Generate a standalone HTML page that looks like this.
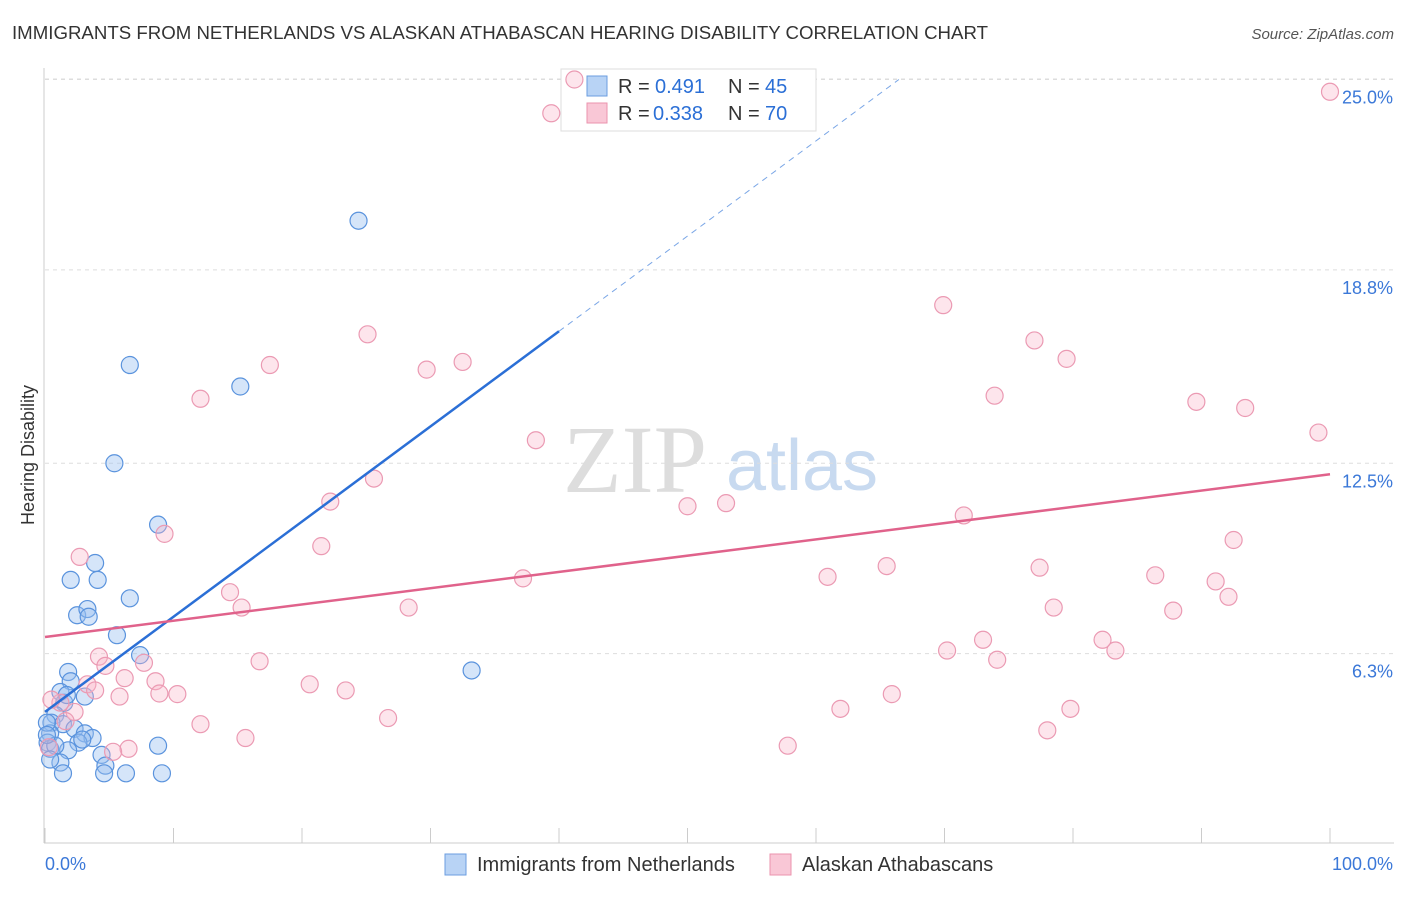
<!DOCTYPE html>
<html><head><meta charset="utf-8"><style>
body{margin:0;background:#fff;font-family:"Liberation Sans",sans-serif;}
</style></head><body>
<svg id="c" width="1406" height="892" xmlns="http://www.w3.org/2000/svg">
<text x="12" y="39" font-size="18" fill="#333" textLength="976" lengthAdjust="spacingAndGlyphs">IMMIGRANTS FROM NETHERLANDS VS ALASKAN ATHABASCAN HEARING DISABILITY CORRELATION CHART</text>
<text x="1394" y="39" font-size="15" fill="#555" font-style="italic" text-anchor="end">Source: ZipAtlas.com</text>
<text transform="translate(34,455) rotate(-90)" font-size="18" fill="#333" text-anchor="middle">Hearing Disability</text>
<text x="635" y="492" font-size="96" fill="#ddd" font-family="Liberation Serif" text-anchor="middle">ZIP</text>
<text x="802" y="490" font-size="72" fill="#c8daf0" text-anchor="middle">atlas</text>
<g id="grid"></g>
<g>
<rect x="561" y="69" width="255" height="62" fill="#fff" stroke="#ddd"/>
<rect x="587" y="76" width="20" height="20" fill="#b8d3f5" stroke="#6b9ee0"/>
<rect x="587" y="103" width="20" height="20" fill="#f9c7d6" stroke="#eb93ae"/>
<text x="618" y="93" font-size="20" fill="#333">R = </text><text x="655" y="93" font-size="20" fill="#2b6fd6">0.491</text>
<text x="728" y="93" font-size="20" fill="#333">N = </text><text x="765" y="93" font-size="20" fill="#2b6fd6">45</text>
<text x="618" y="120" font-size="20" fill="#333">R = </text><text x="653" y="120" font-size="20" fill="#2b6fd6">0.338</text>
<text x="728" y="120" font-size="20" fill="#333">N = </text><text x="765" y="120" font-size="20" fill="#2b6fd6">70</text>
</g>
<g id="marks"></g><g id="lines"></g>
<g>
<rect x="445" y="854" width="21" height="21" fill="#b8d3f5" stroke="#6b9ee0"/>
<text x="477" y="871" font-size="20" fill="#333">Immigrants from Netherlands</text>
<rect x="770" y="854" width="21" height="21" fill="#f9c7d6" stroke="#eb93ae"/>
<text x="802" y="871" font-size="20" fill="#333">Alaskan Athabascans</text>
</g>
</svg>
<script>
const yTicks=[6.3,12.5,18.8,25.0];
const yTickLabels=["6.3%","12.5%","18.8%","25.0%"];
const xLabels=["0.0%","100.0%"];
const blueX=[24.4,6.6,15.2,5.4,8.8,3.9,2.0,4.1,6.6,2.5,3.3,3.4,5.6,7.4,33.2,1.8,2.0,1.2,3.1,1.5,0.8,0.5,1.4,2.3,3.1,3.7,0.4,0.2,2.6,2.9,8.8,0.4,1.8,4.4,1.2,4.7,1.4,4.6,6.3,9.1,0.15,0.8,0.4,1.7,0.15];
const blueY=[20.4,15.7,15.0,12.5,10.5,9.25,8.7,8.7,8.1,7.55,7.75,7.5,6.9,6.25,5.75,5.7,5.4,5.05,4.9,4.7,4.3,4.05,4.0,3.85,3.7,3.55,3.7,3.4,3.4,3.5,3.3,3.2,3.15,3.0,2.75,2.65,2.4,2.4,2.4,2.4,4.05,3.3,2.85,4.95,3.65];
const pinkX=[41.2,39.4,100,69.9,25.1,77.0,79.5,17.5,32.5,29.7,12.1,73.9,89.6,93.4,99.1,38.2,25.6,22.2,50.0,53.0,71.5,9.3,92.5,21.5,2.7,65.5,77.4,37.2,60.9,86.4,91.1,92.1,14.4,15.3,28.3,78.5,87.8,73.0,82.3,83.3,70.2,74.1,4.2,4.7,7.7,16.7,6.2,8.6,3.3,3.9,8.9,10.3,5.8,20.6,23.4,65.9,1.2,2.3,61.9,79.8,26.7,12.1,15.6,78.0,57.8,6.5,5.3,0.3,1.6,0.5];
const pinkY=[25.0,23.9,24.6,17.65,16.7,16.5,15.9,15.7,15.8,15.55,14.6,14.7,14.5,14.3,13.5,13.25,12.0,11.25,11.1,11.2,10.8,10.2,10.0,9.8,9.45,9.15,9.1,8.75,8.8,8.85,8.65,8.15,8.3,7.8,7.8,7.8,7.7,6.75,6.75,6.4,6.4,6.1,6.2,5.9,6.0,6.05,5.5,5.4,5.3,5.1,5.0,4.98,4.9,5.3,5.1,4.98,4.7,4.4,4.5,4.5,4.2,4.0,3.55,3.8,3.3,3.2,3.1,3.25,4.1,4.8];
const blueFit=[4.4,0.31];   // intercept, slope
const pinkFit=[6.84,0.053];
const NS="http://www.w3.org/2000/svg";
const sx=v=>45+v*12.85, sy=v=>847-v*30.7;
function mk(t,a,p){const e=document.createElementNS(NS,t);for(const k in a)e.setAttribute(k,a[k]);p.appendChild(e);return e;}
const grid=document.getElementById('grid'),marks=document.getElementById('marks'),lines=document.getElementById('lines');
const ga=mk('line',{x1:44,y1:68,x2:44,y2:843,stroke:'#ccc'},grid);


const xa=mk('line',{x1:44,y1:843,x2:1394,y2:843,stroke:'#ccc'},grid);


mk('line',{x1:45,y1:79,x2:1394,y2:79,stroke:'#ddd','stroke-dasharray':'4,4'},grid);
yTicks.forEach((t,i)=>{
 const g=mk('line',{x1:45,y1:sy(t),x2:1394,y2:sy(t),stroke:'#ddd','stroke-dasharray':'4,4'},grid);
 
 
 const l=mk('text',{x:1393,y:sy(t)+24,'font-size':18,fill:'#3b78d8','text-anchor':'end'},grid);
 l.textContent=yTickLabels[i];
 
 
});
for(let i=0;i<=10;i++){const tk=mk('line',{x1:sx(i*10),y1:828,x2:sx(i*10),y2:843,stroke:'#ccc'},grid);
 
 }
[[45,'start'],[1393,'end']].forEach((p,i)=>{const l=mk('text',{x:p[0],y:870,'font-size':18,fill:'#3b78d8','text-anchor':p[1]},grid);l.textContent=xLabels[i];
 
 });
blueX.forEach((x,i)=>{const c=mk('circle',{cx:sx(x),cy:sy(blueY[i]),r:8.5,fill:'rgba(150,190,240,0.4)',stroke:'#5a93dd','stroke-width':1.2},marks);
 
 });
pinkX.forEach((x,i)=>{const c=mk('circle',{cx:sx(x),cy:sy(pinkY[i]),r:8.5,fill:'rgba(248,180,200,0.35)',stroke:'#eb9ab3','stroke-width':1.2},marks);
 
 });
const bf=x=>blueFit[0]+blueFit[1]*x, pf=x=>pinkFit[0]+pinkFit[1]*x;
const b1=mk('line',{x1:sx(0),y1:sy(bf(0)),x2:sx(40),y2:sy(bf(40)),stroke:'#2b6fd6','stroke-width':2.5},lines);


const xe=(25.0-blueFit[0])/blueFit[1];
const b2=mk('line',{x1:sx(40),y1:sy(bf(40)),x2:sx(xe),y2:sy(bf(xe)),stroke:'#7aa6e6','stroke-width':1,'stroke-dasharray':'6,5'},lines);


const p1=mk('line',{x1:sx(0),y1:sy(pf(0)),x2:sx(100),y2:sy(pf(100)),stroke:'#e0628b','stroke-width':2.5},lines);


</script>
</body></html>
